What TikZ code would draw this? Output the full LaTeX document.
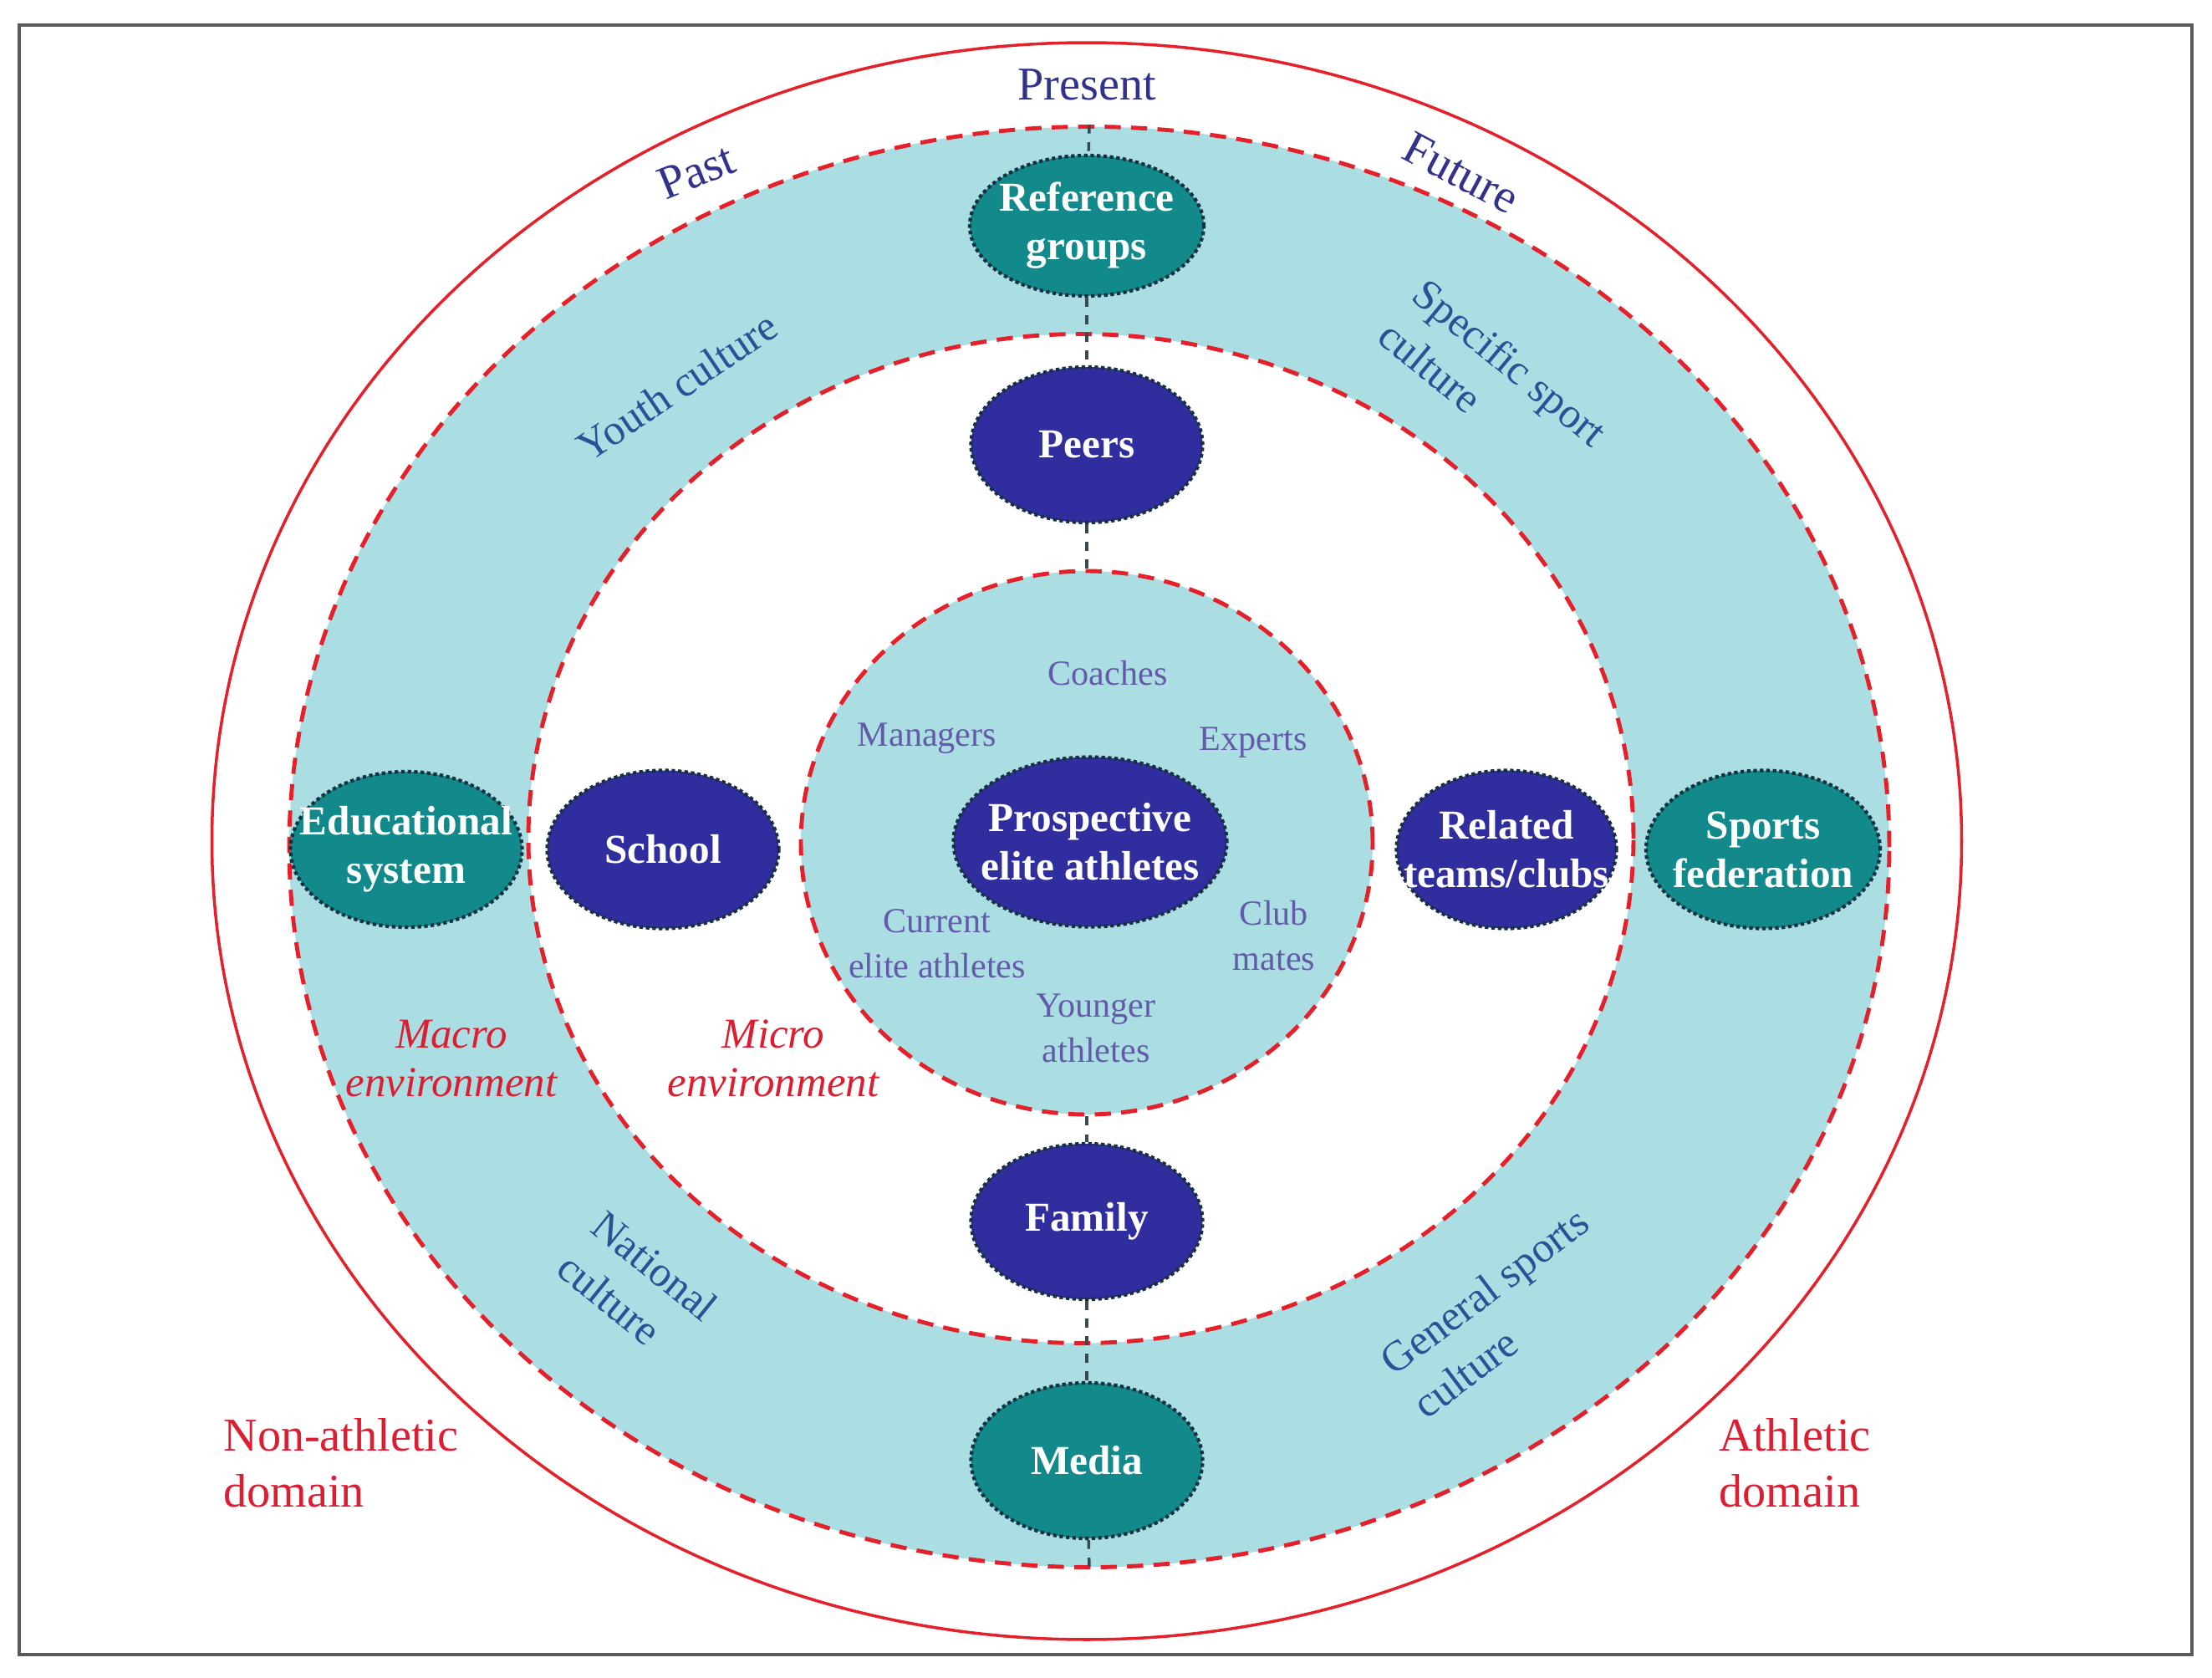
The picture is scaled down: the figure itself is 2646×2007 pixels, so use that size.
\documentclass[tikz,border=0pt]{standalone}
\usepackage{fontspec}
\setmainfont{Liberation Serif}
\usepackage{tikz}
\usetikzlibrary{shapes.geometric}

\definecolor{ringred}{RGB}{228,32,42}
\definecolor{ringfill}{RGB}{170,222,226}
\definecolor{tealc}{RGB}{18,138,140}
\definecolor{navyc}{RGB}{48,46,158}
\definecolor{nodeline}{RGB}{22,48,62}
\definecolor{timeblue}{RGB}{50,50,140}
\definecolor{cultblue}{RGB}{40,82,150}
\definecolor{actorpurple}{RGB}{100,90,170}
\definecolor{envred}{RGB}{220,30,50}
\definecolor{linkgray}{RGB}{58,72,80}
\definecolor{framegray}{RGB}{90,90,90}

\tikzstyle{ring} = [ellipse, draw=ringred, dash pattern=on 5.5pt off 3.5pt, line width=1.4pt, inner sep=0pt]
\tikzstyle{macronode} = [ellipse, draw=nodeline, densely dotted, line width=1.2pt, fill=tealc, text=white, font=\bfseries\fontsize{14}{16.5}\selectfont, align=center, inner xsep=-0.5cm, inner ysep=0pt, minimum width=2.77cm, minimum height=1.86cm]
\tikzstyle{micronode} = [macronode, fill=navyc]
\tikzstyle{timetext} = [text=timeblue, font=\fontsize{16}{19}\selectfont]
\tikzstyle{culture} = [text=cultblue, font=\fontsize{14.5}{18.5}\selectfont, align=left]
\tikzstyle{envtext} = [text=envred, font=\itshape\fontsize{14.5}{16.7}\selectfont, align=center]
\tikzstyle{domaintext} = [text=envred, font=\fontsize{16}{19}\selectfont, align=left, anchor=west]
\tikzstyle{actor} = [text=actorpurple, font=\fontsize{12}{15.3}\selectfont, align=center]
\tikzstyle{link} = [draw=linkgray, line width=1pt, dash pattern=on 3pt off 3pt]

\begin{document}
\begin{tikzpicture}[x=0.1mm, y=0.1mm]
\useasboundingbox (0,0) rectangle (2646,-2007);
\draw [framegray, line width=1.3pt] (23,-30) rectangle (2622,-1979);

% rings of the environment
\node (world) [ellipse, draw=ringred, line width=1pt, inner sep=0pt, minimum width=20.93cm, minimum height=19.10cm] at (1300,-1006) {};
\node (macroring) [ring, fill=ringfill, minimum width=19.14cm, minimum height=17.23cm] at (1303,-1013) {};
\node (microring) [ring, fill=white, minimum width=13.22cm, minimum height=12.07cm] at (1293,-1003) {};
\node (corering) [ring, fill=ringfill, minimum width=6.84cm, minimum height=6.50cm] at (1300,-1008) {};

% macro level
\node (refgroups) [macronode, minimum width=2.80cm, minimum height=1.68cm] at (1300,-270) {Reference\\groups};
\node (edusystem) [macronode] at (486,-1016) {Educational\\system};
\node (sportsfed) [macronode, minimum width=2.80cm, minimum height=1.89cm] at (2109,-1016) {Sports\\federation};
\node (media) [macronode] at (1300,-1747) {Media};

% micro level
\node (peers) [micronode] at (1300,-532) {Peers};
\node (school) [micronode, minimum height=1.89cm] at (793,-1016) {School};
\node (clubs) [micronode, minimum width=2.63cm, minimum height=1.89cm] at (1802,-1016) {Related\\teams/clubs};
\node (family) [micronode] at (1300,-1461) {Family};
\node (athletes) [micronode, minimum width=3.27cm, minimum height=2.03cm] at (1304,-1007) {Prospective\\elite athletes};

% time
\node (present) [timetext] at (1300,-101) {Present};
\node (past) [timetext, rotate=22] at (833,-205) {Past};
\node (future) [timetext, rotate=-28] at (1748,-207) {Future};

% cultures
\node (youth) [culture, rotate=34] at (810,-462) {Youth culture};
\node (specific) [culture, rotate=-39.5] at (1786,-458) {Specific sport\\culture};
\node (national) [culture, rotate=-39] at (763,-1539) {National\\culture};
\node (general) [culture, rotate=37] at (1795,-1570) {General sports\\culture};

% environments and domains
\node (macroenv) [envtext] at (540,-1266) {Macro\\environment};
\node (microenv) [envtext] at (925,-1266) {Micro\\environment};
\node (nonathletic) [domaintext] at (255,-1750) {Non-athletic\\domain};
\node (athletic) [domaintext] at (2044,-1750) {Athletic\\domain};

% people around the athletes
\node (coaches) [actor] at (1325,-805) {Coaches};
\node (managers) [actor] at (1109,-883) {Managers};
\node (experts) [actor] at (1499,-888) {Experts};
\node (current) [actor] at (1121,-1129) {Current\\elite athletes};
\node (clubmates) [actor] at (1524,-1119) {Club\\mates};
\node (younger) [actor] at (1311,-1230) {Younger\\athletes};

% axis
\draw [link] (macroring.north) -- (refgroups);
\draw [link] (refgroups) -- (peers);
\draw [link] (peers) -- (corering.north);
\draw [link] (corering.south) -- (family);
\draw [link] (family) -- (media);
\draw [link] (media) -- (macroring.south);
\end{tikzpicture}
\end{document}
